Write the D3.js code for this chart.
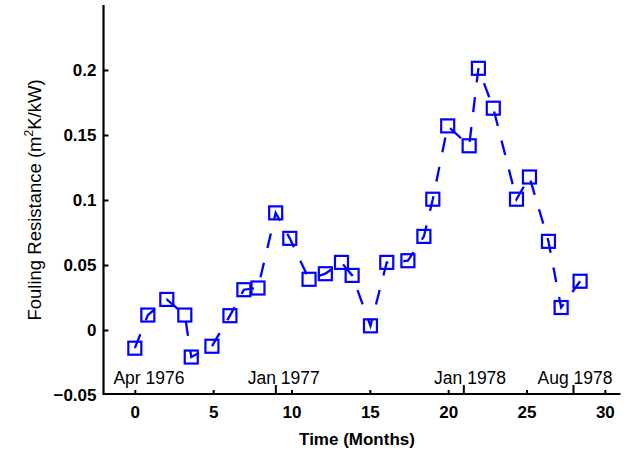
<!DOCTYPE html>
<html>
<head>
<meta charset="utf-8">
<script src="https://cdn.jsdelivr.net/npm/d3@7"></script>
<style>
  html, body { margin: 0; padding: 0; background: #fff; }
  svg { display: block; }
  text { font-family: "Liberation Sans", Arial, Helvetica, sans-serif; fill: #000; }
</style>
</head>
<body>
<svg id="chart" width="631" height="454"></svg>
<script>
// Fouling resistance measurements over time (months since Apr 1976)
const months = [0, 0.83, 2.04, 3.19, 3.6, 4.92, 6.07, 6.96, 7.86, 8.99,
                 9.89, 11.12, 12.16, 13.19, 13.87, 15.04, 16.08, 17.43, 18.45, 19.02,
                 19.97, 21.34, 21.93, 22.88, 24.36, 25.19, 26.4, 27.21, 28.42];
const resistance = [-0.014, 0.0115, 0.0235, 0.0115, -0.0208, -0.0125, 0.011, 0.031, 0.0323, 0.0901,
                    0.0705, 0.039, 0.0433, 0.052, 0.042, 0.0032, 0.052, 0.0533, 0.072, 0.1006,
                    0.157, 0.1417, 0.2013, 0.1706, 0.1006, 0.1177, 0.0682, 0.0173, 0.0375];

const xTicks = [0, 5, 10, 15, 20, 25, 30];
const yTicks = [-0.05, 0, 0.05, 0.1, 0.15, 0.2];
const yTickLabels = ["\u22120.05", "0", "0.05", "0.1", "0.15", "0.2"];

// calendar markers along the time axis
const calendarTicks = [9, 21, 28];
const calendarLabels = ["Apr 1976", "Jan 1977", "Jan 1978", "Aug 1978"];
const calendarLabelPos = [0.9, 9.5, 21.4, 28.1];

const svg = d3.select("#chart");

const x = d3.scaleLinear().domain([-2, 31]).range([103.5, 620.5]);
const y = d3.scaleLinear().domain([-0.05, 0.25]).range([395, 5]);

const axisColor = "#000";

// x axis (ticks point into the plot)
const xAxis = svg.append("g")
  .attr("transform", `translate(0,${y(-0.05) - 1})`)
  .call(d3.axisBottom(x).tickValues(xTicks).tickFormat(d3.format("d"))
        .tickSize(-4).tickPadding(12));
xAxis.select(".domain").attr("stroke", axisColor).attr("stroke-width", 2.2)
  .attr("d", `M${x(-2)},0H${x(31)}`);
xAxis.selectAll(".tick line").attr("stroke", axisColor).attr("stroke-width", 2);
xAxis.selectAll(".tick text").attr("font-size", 17).attr("font-weight", "bold");

// taller ticks marking calendar dates
xAxis.selectAll(".cal-tick").data(calendarTicks).enter().append("line")
  .attr("class", "cal-tick")
  .attr("x1", d => x(d)).attr("x2", d => x(d))
  .attr("y1", 0).attr("y2", -9)
  .attr("stroke", axisColor).attr("stroke-width", 2);

// y axis
const yAxis = svg.append("g")
  .attr("transform", `translate(${x(-2)},0)`)
  .call(d3.axisLeft(y).tickValues(yTicks)
        .tickFormat((d, i) => yTickLabels[i]).tickSize(-5).tickPadding(7));
yAxis.select(".domain").attr("stroke", axisColor).attr("stroke-width", 2.2)
  .attr("d", `M0,${y(0.25)}V${y(-0.05)}`);
yAxis.selectAll(".tick line").attr("stroke", axisColor).attr("stroke-width", 2);
yAxis.selectAll(".tick text").attr("font-size", 17).attr("font-weight", "bold");
// the bottom tick sits on the x axis line
yAxis.selectAll(".tick").filter(d => d === -0.05).select("line").remove();

// calendar labels
svg.append("g").selectAll("text").data(calendarLabels).enter().append("text")
  .attr("x", (d, i) => x(calendarLabelPos[i]))
  .attr("y", 383.5)
  .attr("text-anchor", "middle")
  .attr("font-size", 17.5)
  .text(d => d);

// axis titles
svg.append("text")
  .attr("x", 357).attr("y", 445)
  .attr("text-anchor", "middle")
  .attr("font-size", 17).attr("font-weight", "bold")
  .text("Time (Months)");

const yTitle = svg.append("text")
  .attr("transform", `translate(41,${y(0.1)}) rotate(-90)`)
  .attr("text-anchor", "middle")
  .attr("font-size", 18.5);
yTitle.append("tspan").text("Fouling Resistance (m");
yTitle.append("tspan").attr("font-size", 12).attr("dy", -8).text("2");
yTitle.append("tspan").attr("dy", 8).text("K/kW)");

// dashed series line with open square markers
const pts = months.map((m, i) => [m, resistance[i]]);
svg.append("path")
  .datum(pts)
  .attr("fill", "none")
  .attr("stroke", "#0000ff")
  .attr("stroke-width", 2.3)
  .attr("stroke-dasharray", "15,15")
  .attr("d", d3.line().x(d => x(d[0])).y(d => y(d[1])));

const s = 13;
svg.append("g").selectAll("rect").data(pts).enter().append("rect")
  .attr("x", d => x(d[0]) - s / 2)
  .attr("y", d => y(d[1]) - s / 2)
  .attr("width", s).attr("height", s)
  .attr("fill", "none")
  .attr("stroke", "#0000ff")
  .attr("stroke-width", 2.2);
</script>
</body>
</html>
